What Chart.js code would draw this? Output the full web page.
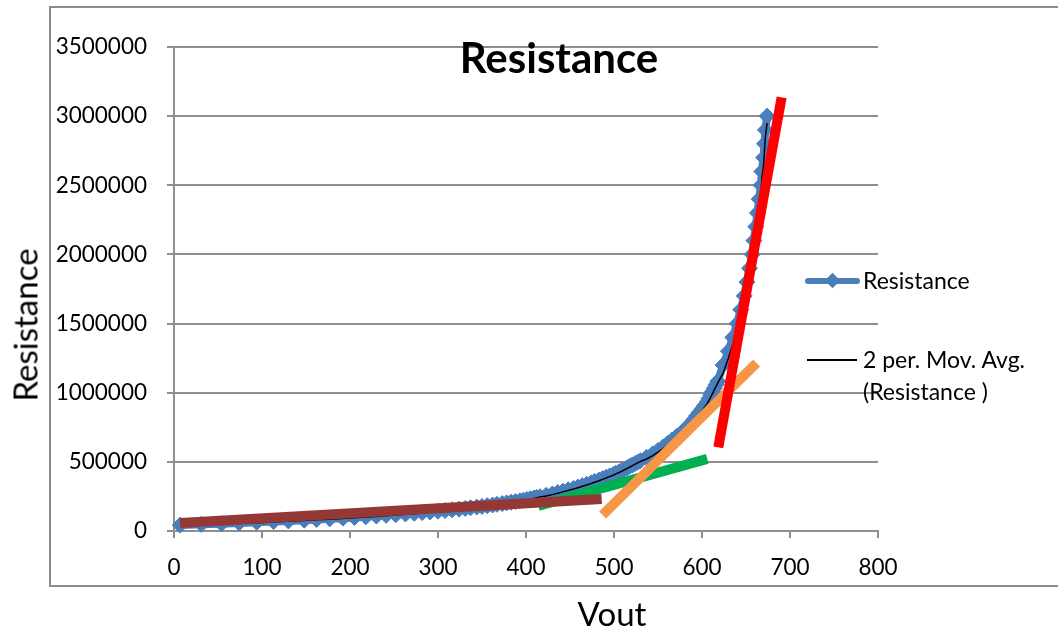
<!DOCTYPE html>
<html>
<head>
<meta charset="utf-8">
<script src="https://cdn.jsdelivr.net/npm/chart.js@4.4.1/dist/chart.umd.min.js"></script>
<style>
  html, body { margin: 0; padding: 0; background: #fff; overflow: hidden; }
  #wrap { position: relative; width: 1058px; height: 629px; font-family: Lato, sans-serif; color: #000; }
  #chart { position: absolute; left: 0; top: 0; }
  .frame { position: absolute; left: 49px; top: 6px; width: 1100px; height: 577px; border: 2px solid #8c8c8c; }
  .txt { position: absolute; white-space: nowrap; line-height: 1; }
  .title { left: 559px; top: 36px; font-size: 42px; font-weight: bold; transform: translateX(-50%); }
  .xtitle { left: 612px; top: 597px; font-size: 33px; transform: translateX(-50%); }
  .ytitle { left: 25px; top: 325px; font-size: 33px; transform: translate(-50%, -50%) rotate(-90deg); }
  .leg { left: 863px; font-size: 23px; }
  .legline { position: absolute; }
</style>
</head>
<body>
<div id="wrap">
  <div class="frame"></div>
  <canvas id="chart" width="1058" height="629"></canvas>
  <div class="txt title">Resistance</div>
  <div class="txt xtitle">Vout</div>
  <div class="txt ytitle">Resistance</div>

  <div class="legline" style="left:805px; top:278px; width:55px; height:6px; border-radius:3px; background:#4A7EBB;"></div>
  <div class="legline" style="left:827px; top:275px; width:11px; height:11px; background:#4A7EBB; transform:rotate(45deg);"></div>
  <div class="txt leg" style="top:269px;">Resistance</div>

  <div class="legline" style="left:807px; top:359px; width:50px; height:2px; background:#000;"></div>
  <div class="txt leg" style="top:343px; line-height:32px;">2 per. Mov. Avg.<br>(Resistance )</div>
</div>
<script>
const vout = [7, 31, 54, 74, 94, 113, 130, 148, 162, 177, 192, 205, 218, 230, 241, 252, 263, 273, 282, 291,
  300, 308, 316, 324, 331, 337, 344, 350, 356, 362, 367, 373, 378, 383, 388, 393, 397, 401, 405, 409,
  412, 416, 423, 430, 436, 442, 448, 454, 459, 464, 469, 474, 478, 483, 487, 491, 495, 499, 502, 506,
  509, 512, 515, 518, 521, 524, 527, 530, 537, 544, 550, 556, 561, 566, 571, 576, 580, 584, 588, 591,
  594, 597, 600, 603, 606, 608, 610, 612, 614, 616, 618, 624, 630, 635, 640, 644, 648, 651, 654, 657,
  659, 661, 663, 665, 667, 668, 670, 671, 672, 674];
const resistance = [43000, 48000, 53000, 58000, 63000, 68000, 73000, 78000, 83000, 88000, 93000, 98000, 103000, 108000, 113000, 118000, 123000, 128000, 133000, 138000,
  143000, 148000, 153000, 158000, 163000, 168000, 173000, 178000, 183000, 188000, 193000, 198000, 203000, 208000, 213000, 218000, 223000, 228000, 233000, 238000,
  243000, 248000, 258000, 268000, 278000, 288000, 298000, 308000, 318000, 328000, 338000, 348000, 358000, 368000, 378000, 388000, 398000, 408000, 418000, 428000,
  438000, 448000, 458000, 468000, 478000, 488000, 498000, 508000, 533000, 558000, 583000, 608000, 633000, 658000, 683000, 708000, 733000, 758000, 783000, 808000,
  833000, 858000, 883000, 908000, 933000, 958000, 983000, 1008000, 1033000, 1058000, 1083000, 1200000, 1300000, 1400000, 1500000, 1600000, 1700000, 1800000, 1900000, 2000000,
  2100000, 2200000, 2300000, 2400000, 2500000, 2600000, 2700000, 2800000, 2900000, 3000000];

// hand-drawn fit lines: [start, end]
const brownX = [7, 486],    brownY = [58000, 232000];
const greenX = [414, 606],  greenY = [181000, 522000];
const orangeX = [487, 662], orangeY = [116000, 1215000];
const redX = [618.5, 690.5], redY = [605000, 3135000];

const xTicks = [0, 100, 200, 300, 400, 500, 600, 700, 800];
const yTicks = [0, 500000, 1000000, 1500000, 2000000, 2500000, 3000000, 3500000];

const pts = (xs, ys) => xs.map((x, i) => ({ x, y: ys[i] }));

// 2 period moving average, as Excel plots it
const movAvg = vout.slice(1).map((x, i) => ({ x, y: (resistance[i] + resistance[i + 1]) / 2 }));

const GRID = '#8e8e8e';
const fitLine = (data, color, order) => ({
  data, order, showLine: true, pointRadius: 0, borderColor: color, borderWidth: 10, borderCapStyle: 'butt', clip: false
});

Chart.defaults.font.family = 'Lato';
Chart.defaults.color = '#000';

new Chart(document.getElementById('chart'), {
  type: 'scatter',
  data: {
    datasets: [
      fitLine(pts(redX, redY), '#FF0000', 0),
      fitLine(pts(orangeX, orangeY), '#F79646', 1),
      fitLine(pts(brownX, brownY), '#953735', 2),
      fitLine(pts(greenX, greenY), '#00B050', 3),
      { data: movAvg, order: 4, showLine: true, pointRadius: 0, borderColor: '#000', borderWidth: 1.5 },
      {
        data: pts(vout, resistance), order: 5, showLine: true, clip: false,
        borderColor: '#4A7EBB', backgroundColor: '#4A7EBB', borderWidth: 8,
        pointStyle: 'rectRot', pointRadius: 8, pointBorderWidth: 1, pointBorderColor: '#4A7EBB'
      }
    ]
  },
  options: {
    responsive: false,
    animation: false,
    events: [],
    layout: { padding: { left: 0, top: 47, right: 180, bottom: 0 } },
    plugins: { legend: { display: false }, tooltip: { enabled: false } },
    scales: {
      x: {
        type: 'linear', min: 0, max: 800,
        afterFit: s => { s.height = 98; },
        afterBuildTicks: s => { s.ticks = xTicks.map(value => ({ value })); },
        ticks: { padding: 16, font: { size: 22.5 }, callback: v => String(v) },
        grid: { drawOnChartArea: false, drawTicks: true, tickLength: 7, color: GRID, lineWidth: 2 },
        border: { color: GRID, width: 2 }
      },
      y: {
        type: 'linear', min: 0, max: 3500000,
        afterFit: s => { s.width = 174; },
        afterBuildTicks: s => { s.ticks = yTicks.map(value => ({ value })); },
        ticks: { padding: 20, font: { size: 22.5 }, callback: v => String(v) },
        grid: { color: GRID, lineWidth: 2, tickLength: 7 },
        border: { color: GRID, width: 2 }
      }
    }
  }
});
</script>
</body>
</html>
